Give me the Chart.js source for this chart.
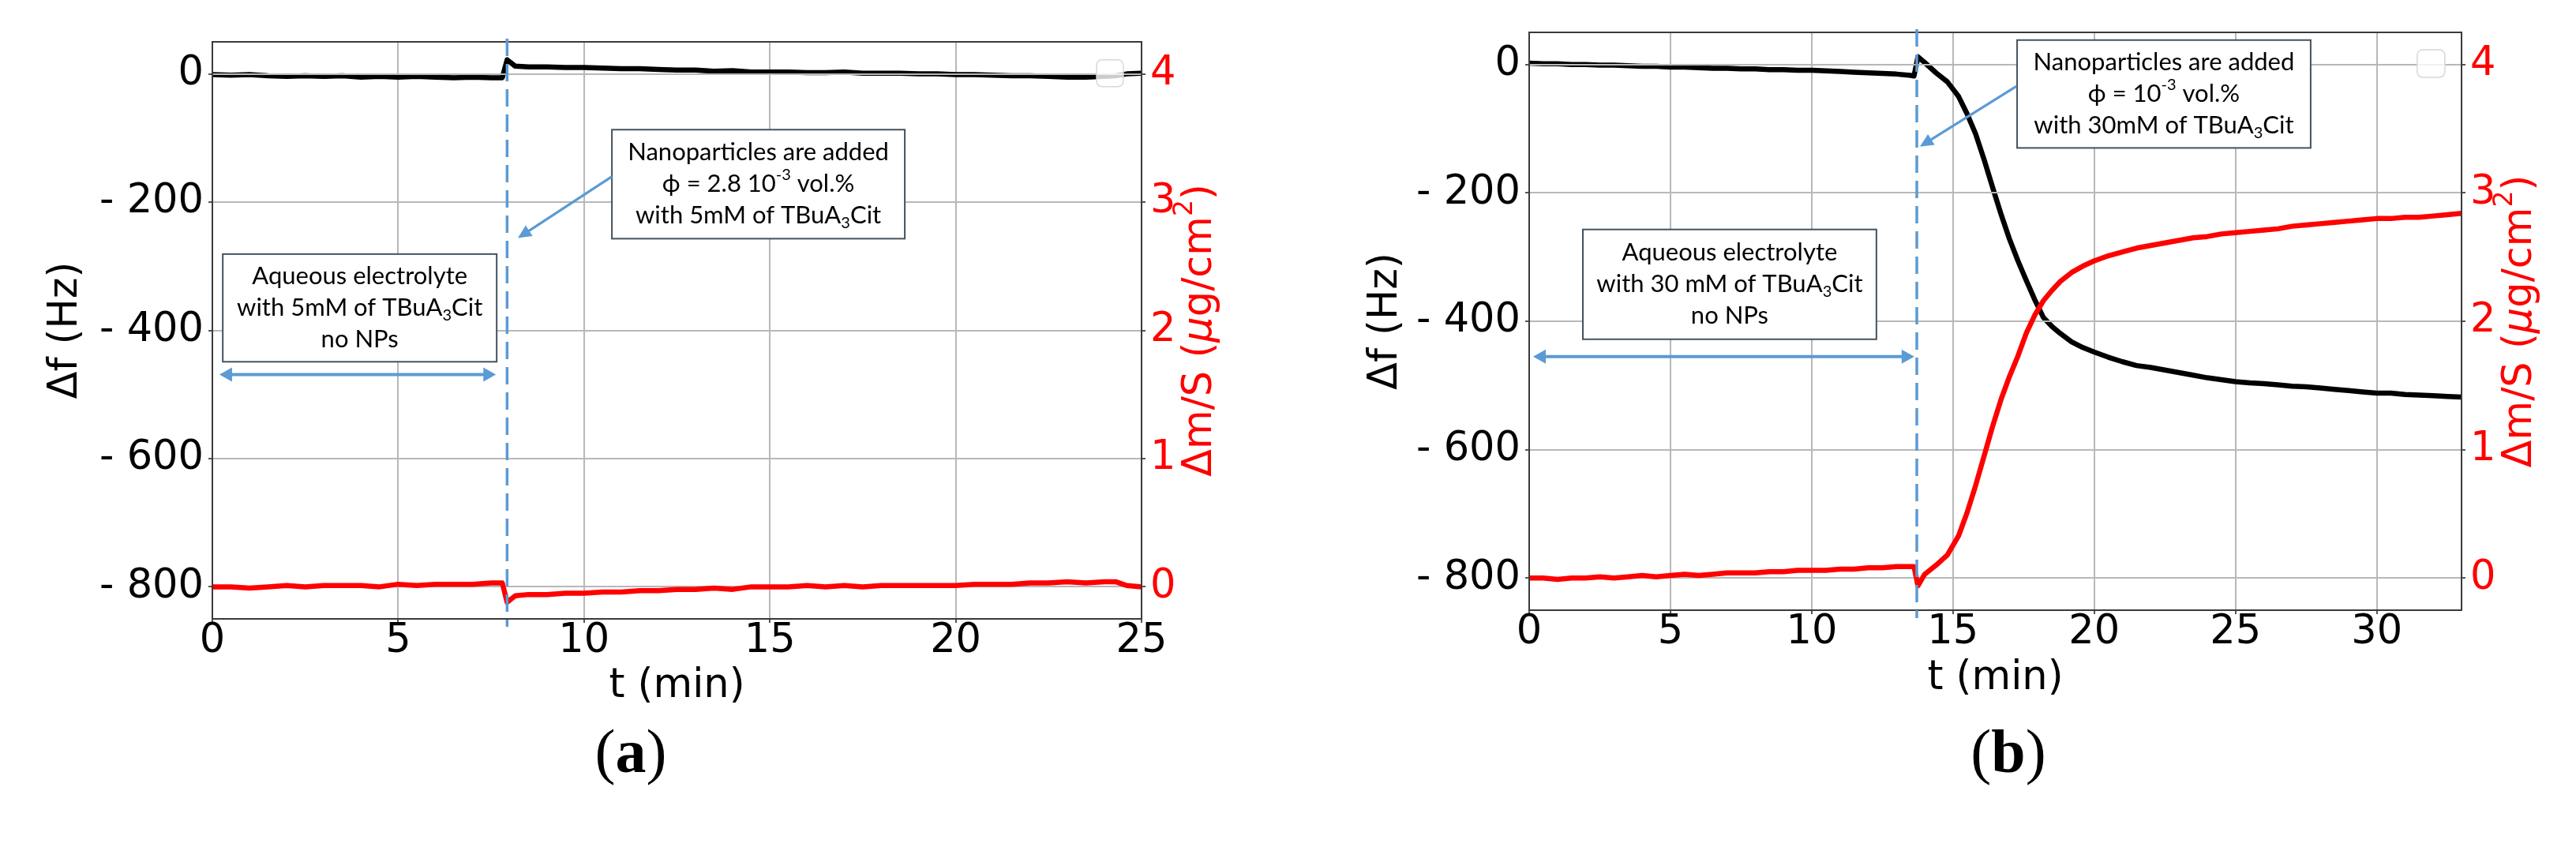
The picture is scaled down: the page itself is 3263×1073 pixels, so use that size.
<!DOCTYPE html>
<html><head><meta charset="utf-8">
<script src="https://cdn.jsdelivr.net/npm/chart.js@4.4.1/dist/chart.umd.min.js"></script>
<style>
html,body{margin:0;padding:0;background:#fff;width:3263px;height:1073px;overflow:hidden;position:relative}
.wrap{position:absolute;top:0}
canvas{display:block}
.lab{position:absolute;font-family:"Liberation Serif","Times New Roman",serif;font-size:78px;color:#000;transform:translate(-50%,-50%);line-height:1;white-space:nowrap}
</style></head><body>
<div class="wrap" style="left:0px;width:1640px;height:900px"><canvas id="ca" width="1640" height="900" style="width:1640px;height:900px"></canvas></div>
<div class="wrap" style="left:1660px;width:1603px;height:900px"><canvas id="cb" width="1603" height="900" style="width:1603px;height:900px"></canvas></div>
<div class="lab" style="left:799px;top:952px">(<b>a</b>)</div>
<div class="lab" style="left:2544px;top:952px">(<b>b</b>)</div>
<script>
// ---------------- DATA ----------------
// Panel (a): 5 mM TBuA3Cit, NPs added at ~8 min
const tA = [0,0.5,1,1.5,2,2.5,3,3.5,4,4.5,5,5.5,6,6.5,7,7.5,7.8,7.93,8.15,8.5,9,9.5,10,10.5,11,11.5,12,12.5,13,13.5,14,14.5,15,15.5,16,16.5,17,17.5,18,18.5,19,19.5,20,20.5,21,21.5,22,22.5,23,23.5,24,24.3,24.6,25];
const dfA = [-1,-2,-1,-3,-4,-3,-4,-3,-5,-4,-5,-4,-5,-6,-5,-6,-6,22,12,11,11,10,10,9,8,8,7,6,6,4,5,3,3,3,2,2,3,1,1,1,0,0,-1,-1,-2,-3,-3,-4,-5,-5,-4,-3,0,1];
const dmA = [0.00,0.00,-0.01,0.00,0.01,0.00,0.01,0.01,0.01,0.00,0.02,0.01,0.02,0.02,0.02,0.03,0.03,-0.12,-0.07,-0.06,-0.06,-0.05,-0.05,-0.04,-0.04,-0.03,-0.03,-0.02,-0.02,-0.01,-0.02,0.00,0.00,0.00,0.01,0.00,0.01,0.00,0.01,0.01,0.01,0.01,0.01,0.02,0.02,0.02,0.03,0.03,0.04,0.03,0.04,0.04,0.01,0.00];

// Panel (b): 30 mM TBuA3Cit, NPs added at ~13.7 min
const tB = [0,0.5,1,1.5,2,2.5,3,3.5,4,4.5,5,5.5,6,6.5,7,7.5,8,8.5,9,9.5,10,10.5,11,11.5,12,12.5,13,13.5,13.62,13.76,14.0,14.4,14.8,15.2,15.5,15.8,16.1,16.4,16.7,17.0,17.3,17.6,17.9,18.2,18.5,18.8,19.2,19.6,20,20.5,21,21.5,22,22.5,23,23.5,24,24.5,25,25.5,26,26.5,27,27.5,28,28.5,29,29.5,30,30.5,31,31.5,32,32.5,33];
const dfB = [2,1,1,0,0,-1,-1,-2,-3,-3,-4,-4,-5,-6,-6,-7,-7,-8,-8,-9,-9,-10,-11,-12,-13,-14,-15,-17,-18,12,3,-13,-27,-50,-77,-108,-148,-191,-233,-272,-306,-337,-367,-394,-408,-419,-432,-441,-448,-456,-463,-469,-472,-476,-480,-484,-488,-491,-494,-496,-497,-499,-501,-502,-504,-506,-508,-510,-512,-512,-514,-515,-516,-517,-518];
const dmB = [0.00,0.00,-0.01,0.00,0.00,0.01,0.00,0.01,0.02,0.01,0.02,0.03,0.02,0.03,0.04,0.04,0.04,0.05,0.05,0.06,0.06,0.06,0.07,0.07,0.08,0.08,0.09,0.09,0.09,-0.06,0.03,0.10,0.18,0.33,0.51,0.72,0.95,1.18,1.39,1.57,1.73,1.91,2.05,2.16,2.24,2.31,2.38,2.43,2.47,2.51,2.54,2.57,2.59,2.61,2.63,2.65,2.66,2.68,2.69,2.70,2.71,2.72,2.74,2.75,2.76,2.77,2.78,2.79,2.80,2.80,2.81,2.81,2.82,2.83,2.84];

// Tick values
const xTicksA = [0,5,10,15,20,25];
const xTicksB = [0,5,10,15,20,25,30];
const dfTicks = [0,-200,-400,-600,-800];
const dmTicks = [0,1,2,3,4];

// Text
const xTitle = 't (min)';
const yTitle = 'Δf (Hz)';
const y1Title = [{t:'Δm/S ('},{t:'μ',italic:true},{t:'g/cm'},{t:'2',sup:true},{t:')'}];

// ---------------- STYLE ----------------
const AXF = '"DejaVu Sans", "Bitstream Vera Sans", sans-serif';
const BOXF = 'Lato, "Open Sans", sans-serif';
const GRID = '#b8b8b8';
const BLUE = '#5b9bd5';
const RED = '#ff0000';

function drawRich(ctx, segs, cx, cy, size, family, color) {
  const fontOf = s => (s.italic ? 'italic ' : '') + ((s.sub || s.sup) ? Math.round(size * 0.65) : size) + 'px ' + family;
  let w = 0;
  const ws = segs.map(s => { ctx.font = fontOf(s); const m = ctx.measureText(s.t).width; w += m; return m; });
  let x = cx - w / 2;
  ctx.textAlign = 'left'; ctx.textBaseline = 'middle'; ctx.fillStyle = color;
  segs.forEach((s, i) => {
    ctx.font = fontOf(s);
    const dy = s.sub ? size * 0.3 : (s.sup ? -size * 0.38 : 0);
    ctx.fillText(s.t, x, cy + dy);
    x += ws[i];
  });
}

function arrowHead(ctx, x0, y0, x1, y1, len, half) {
  const ang = Math.atan2(y1 - y0, x1 - x0);
  ctx.beginPath();
  ctx.moveTo(x1, y1);
  ctx.lineTo(x1 - len * Math.cos(ang) + half * Math.sin(ang), y1 - len * Math.sin(ang) - half * Math.cos(ang));
  ctx.lineTo(x1 - len * Math.cos(ang) - half * Math.sin(ang), y1 - len * Math.sin(ang) + half * Math.cos(ang));
  ctx.closePath();
  ctx.fill();
}

const overlay = {
  id: 'overlay',
  afterDatasetDraw(chart, args) {
    // twin axis grid drawn on top of the frequency curve (as in the original figure)
    if (args.index !== 1) return;
    const {ctx, chartArea: a, scales} = chart;
    ctx.save();
    ctx.strokeStyle = GRID; ctx.lineWidth = 2;
    dmTicks.forEach(v => {
      const y = Math.round(scales.y1.getPixelForValue(v));
      ctx.beginPath(); ctx.moveTo(a.left, y); ctx.lineTo(a.right, y); ctx.stroke();
    });
    ctx.restore();
  },
  afterDatasetsDraw(chart, args, o) {
    const {ctx, chartArea: a, scales} = chart;
    const px = v => scales.x.getPixelForValue(v);
    const py = v => scales.y.getPixelForValue(v);
    ctx.save();
    // frame
    ctx.strokeStyle = '#3a3a3a'; ctx.lineWidth = 2;
    ctx.strokeRect(a.left, a.top, a.right - a.left, a.bottom - a.top);
    // dashed addition line
    ctx.strokeStyle = BLUE; ctx.lineWidth = 3.5; ctx.setLineDash([22, 10]);
    const xd = px(o.addT);
    ctx.beginPath(); ctx.moveTo(xd, a.top - 4); ctx.lineTo(xd, a.bottom + 10); ctx.stroke();
    ctx.setLineDash([]);
    // empty legend frame
    const L = o.legend;
    const lx0 = px(L.x0), lx1 = px(L.x1), ly0 = py(L.y0), ly1 = py(L.y1);
    ctx.beginPath();
    ctx.roundRect(lx0, ly0, lx1 - lx0, ly1 - ly0, 7);
    ctx.fillStyle = 'rgba(255,255,255,0.8)'; ctx.fill();
    ctx.strokeStyle = '#d8d8d8'; ctx.lineWidth = 1.5; ctx.stroke();
    // text boxes
    o.boxes.forEach(b => {
      const x0 = px(b.x0), x1 = px(b.x1), y0 = py(b.y0), y1 = py(b.y1);
      ctx.fillStyle = '#fff'; ctx.fillRect(x0, y0, x1 - x0, y1 - y0);
      ctx.strokeStyle = '#43525f'; ctx.lineWidth = 2;
      ctx.strokeRect(x0, y0, x1 - x0, y1 - y0);
      const cx = (x0 + x1) / 2, cy = (y0 + y1) / 2;
      b.lines.forEach((ln, i) => drawRich(ctx, ln, cx, cy + (i - 1) * 40, 31, BOXF, '#000'));
    });
    // double arrow
    ctx.strokeStyle = BLUE; ctx.fillStyle = BLUE; ctx.lineWidth = 4;
    const d = o.dbl;
    const dx0 = px(d.x0), dx1 = px(d.x1), dy = py(d.y);
    ctx.beginPath(); ctx.moveTo(dx0 + 8, dy); ctx.lineTo(dx1 - 8, dy); ctx.stroke();
    arrowHead(ctx, dx1, dy, dx0, dy, 16, 9);
    arrowHead(ctx, dx0, dy, dx1, dy, 16, 9);
    // diagonal arrow
    const r = o.arrow;
    const ax0 = px(r.x0), ay0 = py(r.y0), ax1 = px(r.x1), ay1 = py(r.y1);
    ctx.lineWidth = 3.2;
    const ang = Math.atan2(ay1 - ay0, ax1 - ax0);
    ctx.beginPath(); ctx.moveTo(ax0, ay0); ctx.lineTo(ax1 - 10 * Math.cos(ang), ay1 - 10 * Math.sin(ang)); ctx.stroke();
    arrowHead(ctx, ax0, ay0, ax1, ay1, 17, 8);
    ctx.restore();
  },
  afterDraw(chart) {
    const {ctx, chartArea: a} = chart;
    ctx.save();
    ctx.translate(a.right + 75, (a.top + a.bottom) / 2);
    ctx.rotate(-Math.PI / 2);
    drawRich(ctx, y1Title, 0, 0, 51, AXF, RED);
    ctx.restore();
  }
};

function buildChart(id, P) {
  const black = P.t.map((t, i) => ({x: t, y: P.df[i]}));
  const red = P.t.map((t, i) => ({x: t, y: P.dm[i]}));
  const tickFont = {family: AXF, size: 51, lineHeight: 1};
  const titleFont = {family: AXF, size: 51, lineHeight: 1.2};
  return new Chart(document.getElementById(id), {
    type: 'line',
    data: {datasets: [
      {label: 'dm', data: red, yAxisID: 'y1', borderColor: RED, backgroundColor: RED, borderWidth: 6.5, pointRadius: 0, tension: 0, borderJoinStyle: 'round', borderCapStyle: 'round'},
      {label: 'df', data: black, yAxisID: 'y', borderColor: '#000', backgroundColor: '#000', borderWidth: 6.5, pointRadius: 0, tension: 0, borderJoinStyle: 'round', borderCapStyle: 'round'}
    ]},
    options: {
      responsive: false, animation: false, devicePixelRatio: 1, parsing: true,
      layout: {padding: {left: 0, right: 0, top: P.padTop, bottom: 0}},
      plugins: {legend: {display: false}, tooltip: {enabled: false}, overlay: P.ann},
      scales: {
        x: {
          type: 'linear', position: 'bottom', min: 0, max: P.xMax, bounds: 'data',
          afterBuildTicks: s => { s.ticks = P.xTicks.map(v => ({value: v})); },
          afterFit: s => { s.height = P.xH; },
          grid: {color: GRID, lineWidth: 2, tickLength: 5, tickColor: '#555'},
          border: {display: false},
          ticks: {font: tickFont, color: '#000', padding: -2, maxRotation: 0, autoSkip: false},
          title: {display: true, text: xTitle, font: titleFont, color: '#000', padding: {top: 0, bottom: P.xTitlePad}}
        },
        y: {
          type: 'linear', position: 'left', min: -850, max: 50, bounds: 'data',
          afterBuildTicks: s => { s.ticks = dfTicks.map(v => ({value: v})); },
          afterFit: s => { s.width = P.yW; },
          grid: {color: GRID, lineWidth: 2, tickLength: 5, tickColor: '#555'},
          border: {display: false},
          ticks: {font: tickFont, color: '#000', padding: 6, callback: v => v === 0 ? '0' : '- ' + Math.abs(v)},
          title: {display: true, text: yTitle, font: titleFont, color: '#000', padding: {top: P.yTitlePad, bottom: 0}}
        },
        y1: {
          type: 'linear', position: 'right', min: -0.25, max: 4.25, bounds: 'data',
          afterBuildTicks: s => { s.ticks = dmTicks.map(v => ({value: v})); },
          afterFit: s => { s.width = P.y1W; },
          grid: {drawOnChartArea: false, tickLength: 5, tickColor: '#555', lineWidth: 2},
          border: {display: false},
          ticks: {font: tickFont, color: RED, padding: 6, callback: v => String(v)}
        }
      }
    },
    plugins: [overlay]
  });
}

const subTB = [{t: 'TBuA'}, {t: '3', sub: true}, {t: 'Cit'}];

buildChart('ca', {
  t: tA, df: dfA, dm: dmA, xMax: 25, xTicks: xTicksA,
  padTop: 53, xH: 116, yW: 269, y1W: 194, yTitlePad: 53, xTitlePad: 0,
  ann: {
    addT: 7.93,
    legend: {x0: 23.79, x1: 24.51, y0: 22, y1: -20},
    boxes: [
      {x0: 0.28, x1: 7.65, y0: -281, y1: -449, lines: [
        [{t: 'Aqueous electrolyte'}],
        [{t: 'with 5mM of '}].concat(subTB),
        [{t: 'no NPs'}]]},
      {x0: 10.75, x1: 18.63, y0: -87, y1: -257, lines: [
        [{t: 'Nanoparticles are added'}],
        [{t: 'ϕ = 2.8 10'}, {t: '-3', sup: true}, {t: ' vol.%'}],
        [{t: 'with 5mM of '}].concat(subTB)]}
    ],
    dbl: {x0: 0.19, x1: 7.63, y: -469},
    arrow: {x0: 10.75, y0: -160, x1: 8.22, y1: -256}
  }
});

buildChart('cb', {
  t: tB, df: dfB, dm: dmB, xMax: 33, xTicks: xTicksB,
  padTop: 41, xH: 127, yW: 277, y1W: 145, yTitlePad: 65, xTitlePad: 10,
  ann: {
    addT: 13.72,
    legend: {x0: 31.43, x1: 32.41, y0: 23, y1: -20},
    boxes: [
      {x0: 1.90, x1: 12.29, y0: -257, y1: -428, lines: [
        [{t: 'Aqueous electrolyte'}],
        [{t: 'with 30 mM of '}].concat(subTB),
        [{t: 'no NPs'}]]},
      {x0: 17.27, x1: 27.66, y0: 38, y1: -130, lines: [
        [{t: 'Nanoparticles are added'}],
        [{t: 'ϕ = 10'}, {t: '-3', sup: true}, {t: ' vol.%'}],
        [{t: 'with 30mM of '}].concat(subTB)]}
    ],
    dbl: {x0: 0.14, x1: 13.63, y: -455},
    arrow: {x0: 17.24, y0: -34, x1: 13.83, y1: -128}
  }
});
</script>
</body></html>
